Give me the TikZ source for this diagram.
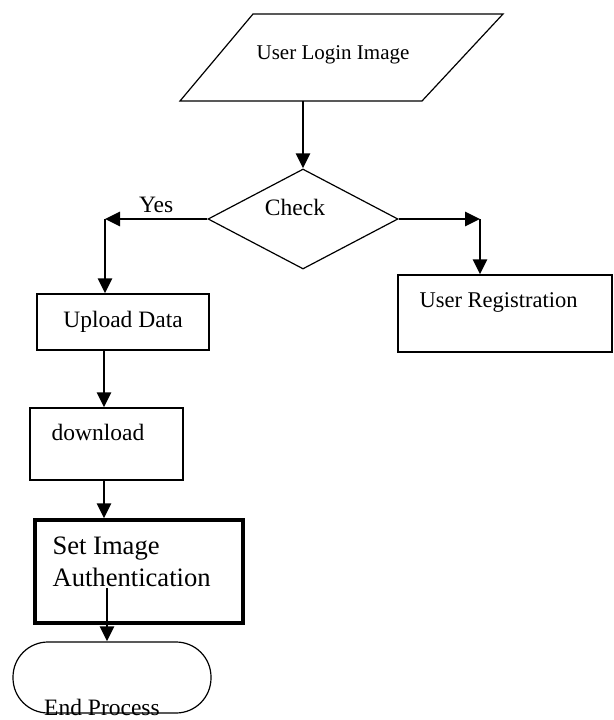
\documentclass[tikz,border=0pt]{standalone}
\usepackage{fontspec}
\setmainfont{Liberation Serif}
\usetikzlibrary{shapes.geometric,arrows.meta}

\tikzset{
  box/.style={draw, line width=1.2pt, rectangle, inner sep=0pt},
  flow/.style={->, line width=2.7pt},
  intext/.style={anchor=north west, inner sep=0pt},
  >={Triangle[length=15pt,width=14pt]}
}

\begin{document}
\begin{tikzpicture}[x=1pt,y=-1pt,font=\fontsize{23.5}{28}\selectfont]
  \useasboundingbox (0,0) rectangle (613,720);

  % input shape
  \draw[line width=1.2pt] (253,14) -- (503,14) -- (422,101) -- (180,101) -- cycle;
  \node (login) at (333,55) {\fontsize{21}{25}\selectfont User Login Image};
  \coordinate (loginbot) at (303,101);

  % decision
  \node[diamond, draw, line width=1.2pt, minimum width=190pt, minimum height=100pt,
        inner sep=0pt, label={[anchor=north, inner sep=0pt, xshift=-8pt, yshift=-31pt]north:Check}]
        (check) at (303,219) {};
  \coordinate (yescorner) at (105,219);
  \coordinate (regcorner) at (480,219);

  % boxes
  \node[box, minimum width=172pt, minimum height=56pt] (upload) at (123,322) {Upload Data};
  \node[box, minimum width=214pt, minimum height=77pt,
        label={[intext, xshift=22pt, yshift=-18pt, font=\fontsize{22.5}{27}\selectfont]north west:User Registration}]
        (reg) at (505,313.5) {};
  \node[box, minimum width=153pt, minimum height=72pt,
        label={[intext, xshift=22pt, yshift=-17pt]north west:download}]
        (download) at (106.5,444) {};
  \node[box, line width=3.3pt, minimum width=208pt, minimum height=103pt,
        label={[intext, align=left, xshift=19pt, yshift=-18pt, font=\fontsize{26.6}{32}\selectfont]north west:Set Image\\Authentication}]
        (setimg) at (139,571.5) {};
  \node[box, rounded corners=35pt, minimum width=198pt, minimum height=71pt,
        label={[anchor=base, inner sep=0pt, xshift=-10pt, yshift=-2pt]south:End Process}]
        (endp) at (112,677.5) {};
  \coordinate (authtail) at (107,588);

  % connectors
  \draw[flow] (loginbot) -- (check.north);
  \draw[flow] (check.west) to node[above, inner sep=5pt] {Yes} (yescorner);
  \draw[flow] (yescorner) -- (yescorner |- upload.north);
  \draw[flow] (check.east) -- (regcorner);
  \draw[flow] (regcorner) -- (regcorner |- reg.north);
  \draw[flow] ([xshift=-19pt]upload.south) -- ([xshift=-19pt]upload.south |- download.north);
  \draw[flow] ([xshift=-2.5pt]download.south) -- ([xshift=-2.5pt]download.south |- setimg.north);
  \draw[flow] (authtail) -- (authtail |- endp.north);
\end{tikzpicture}
\end{document}
